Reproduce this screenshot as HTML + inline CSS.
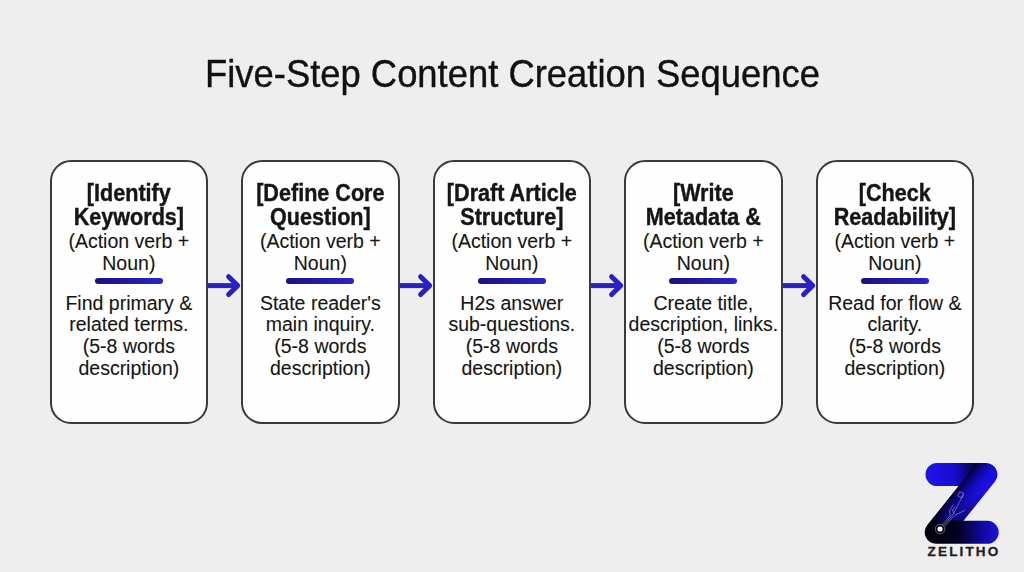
<!DOCTYPE html>
<html><head><meta charset="utf-8"><style>
html,body{margin:0;padding:0}
body{width:1024px;height:572px;background:#eeeeee;position:relative;overflow:hidden;font-family:"Liberation Sans",sans-serif;color:#151515}
.title{position:absolute;left:0;width:1025px;text-align:center;white-space:nowrap;color:#111;-webkit-text-stroke:0.35px #111}
.box{position:absolute;box-sizing:border-box;border:2px solid #3a3a3a;border-radius:21px;background:#fefefe}
.t{position:absolute;width:200px;text-align:center;white-space:nowrap}
.bar{position:absolute;width:68px;height:6px;border-radius:3px;background:linear-gradient(90deg,#171180,#2a24cc)}
.arr{position:absolute;overflow:visible}
.logo{position:absolute;left:900px;top:450px}
.zel{position:absolute;left:927.6px;top:544px;line-height:16px;font-size:13.5px;font-weight:700;letter-spacing:2.15px;color:#1e1e1e;-webkit-text-stroke:0.3px #1e1e1e;white-space:nowrap}
</style></head><body>
<div class="title" style="top:53.35px;line-height:43.68px;font-size:36.4px;transform:scaleY(1.065);transform-origin:50% 34.45px">Five-Step Content Creation Sequence</div>
<div class="box" style="left:49.60px;top:159.60px;width:158.5px;height:264px"></div>
<div class="t" style="top:180.76px;left:28.85px;font-size:21.6px;line-height:25.92px;font-weight:700;-webkit-text-stroke:0.4px #1a1a1a;transform:scaleY(1.09);transform-origin:50% 20.44px">[Identify</div>
<div class="t" style="top:205.36px;left:28.85px;font-size:21.6px;line-height:25.92px;font-weight:700;-webkit-text-stroke:0.4px #1a1a1a;transform:scaleY(1.09);transform-origin:50% 20.44px">Keywords]</div>
<div class="t" style="top:230.34px;left:28.85px;font-size:19.5px;line-height:23.40px;font-weight:400;-webkit-text-stroke:0.1px #1a1a1a;transform:scaleY(1.0);transform-origin:50% 18.46px">(Action verb +</div>
<div class="t" style="top:251.54px;left:28.85px;font-size:19.5px;line-height:23.40px;font-weight:400;-webkit-text-stroke:0.1px #1a1a1a;transform:scaleY(1.0);transform-origin:50% 18.46px">Noun)</div>
<div class="bar" style="left:94.85px;top:278px"></div>
<div class="t" style="top:291.64px;left:28.85px;font-size:19.5px;line-height:23.40px;font-weight:400;-webkit-text-stroke:0.1px #1a1a1a;transform:scaleY(1.0);transform-origin:50% 18.46px">Find primary &</div>
<div class="t" style="top:313.24px;left:28.85px;font-size:19.5px;line-height:23.40px;font-weight:400;-webkit-text-stroke:0.1px #1a1a1a;transform:scaleY(1.0);transform-origin:50% 18.46px">related terms.</div>
<div class="t" style="top:335.04px;left:28.85px;font-size:19.5px;line-height:23.40px;font-weight:400;-webkit-text-stroke:0.1px #1a1a1a;transform:scaleY(1.0);transform-origin:50% 18.46px">(5-8 words</div>
<div class="t" style="top:356.64px;left:28.85px;font-size:19.5px;line-height:23.40px;font-weight:400;-webkit-text-stroke:0.1px #1a1a1a;transform:scaleY(1.0);transform-origin:50% 18.46px">description)</div>
<svg class="arr" style="left:208.10px;top:270px" width="40" height="32" viewBox="0 0 40 32"><path d="M0 15.6 H29" stroke="#2822c4" stroke-width="5" fill="none"/><path d="M20.6 6.7 L29.7 15.6 L20.6 24.5" stroke="#2822c4" stroke-width="5" fill="none" stroke-linecap="round" stroke-linejoin="round"/></svg>
<div class="box" style="left:241.10px;top:159.60px;width:158.5px;height:264px"></div>
<div class="t" style="top:180.76px;left:220.35px;font-size:21.6px;line-height:25.92px;font-weight:700;-webkit-text-stroke:0.4px #1a1a1a;transform:scaleY(1.09);transform-origin:50% 20.44px">[Define Core</div>
<div class="t" style="top:205.36px;left:220.35px;font-size:21.6px;line-height:25.92px;font-weight:700;-webkit-text-stroke:0.4px #1a1a1a;transform:scaleY(1.09);transform-origin:50% 20.44px">Question]</div>
<div class="t" style="top:230.34px;left:220.35px;font-size:19.5px;line-height:23.40px;font-weight:400;-webkit-text-stroke:0.1px #1a1a1a;transform:scaleY(1.0);transform-origin:50% 18.46px">(Action verb +</div>
<div class="t" style="top:251.54px;left:220.35px;font-size:19.5px;line-height:23.40px;font-weight:400;-webkit-text-stroke:0.1px #1a1a1a;transform:scaleY(1.0);transform-origin:50% 18.46px">Noun)</div>
<div class="bar" style="left:286.35px;top:278px"></div>
<div class="t" style="top:291.64px;left:220.35px;font-size:19.5px;line-height:23.40px;font-weight:400;-webkit-text-stroke:0.1px #1a1a1a;transform:scaleY(1.0);transform-origin:50% 18.46px">State reader's</div>
<div class="t" style="top:313.24px;left:220.35px;font-size:19.5px;line-height:23.40px;font-weight:400;-webkit-text-stroke:0.1px #1a1a1a;transform:scaleY(1.0);transform-origin:50% 18.46px">main inquiry.</div>
<div class="t" style="top:335.04px;left:220.35px;font-size:19.5px;line-height:23.40px;font-weight:400;-webkit-text-stroke:0.1px #1a1a1a;transform:scaleY(1.0);transform-origin:50% 18.46px">(5-8 words</div>
<div class="t" style="top:356.64px;left:220.35px;font-size:19.5px;line-height:23.40px;font-weight:400;-webkit-text-stroke:0.1px #1a1a1a;transform:scaleY(1.0);transform-origin:50% 18.46px">description)</div>
<svg class="arr" style="left:399.60px;top:270px" width="40" height="32" viewBox="0 0 40 32"><path d="M0 15.6 H29" stroke="#2822c4" stroke-width="5" fill="none"/><path d="M20.6 6.7 L29.7 15.6 L20.6 24.5" stroke="#2822c4" stroke-width="5" fill="none" stroke-linecap="round" stroke-linejoin="round"/></svg>
<div class="box" style="left:432.60px;top:159.60px;width:158.5px;height:264px"></div>
<div class="t" style="top:180.76px;left:411.85px;font-size:21.6px;line-height:25.92px;font-weight:700;-webkit-text-stroke:0.4px #1a1a1a;transform:scaleY(1.09);transform-origin:50% 20.44px">[Draft Article</div>
<div class="t" style="top:205.36px;left:411.85px;font-size:21.6px;line-height:25.92px;font-weight:700;-webkit-text-stroke:0.4px #1a1a1a;transform:scaleY(1.09);transform-origin:50% 20.44px">Structure]</div>
<div class="t" style="top:230.34px;left:411.85px;font-size:19.5px;line-height:23.40px;font-weight:400;-webkit-text-stroke:0.1px #1a1a1a;transform:scaleY(1.0);transform-origin:50% 18.46px">(Action verb +</div>
<div class="t" style="top:251.54px;left:411.85px;font-size:19.5px;line-height:23.40px;font-weight:400;-webkit-text-stroke:0.1px #1a1a1a;transform:scaleY(1.0);transform-origin:50% 18.46px">Noun)</div>
<div class="bar" style="left:477.85px;top:278px"></div>
<div class="t" style="top:291.64px;left:411.85px;font-size:19.5px;line-height:23.40px;font-weight:400;-webkit-text-stroke:0.1px #1a1a1a;transform:scaleY(1.0);transform-origin:50% 18.46px">H2s answer</div>
<div class="t" style="top:313.24px;left:411.85px;font-size:19.5px;line-height:23.40px;font-weight:400;-webkit-text-stroke:0.1px #1a1a1a;transform:scaleY(1.0);transform-origin:50% 18.46px">sub-questions.</div>
<div class="t" style="top:335.04px;left:411.85px;font-size:19.5px;line-height:23.40px;font-weight:400;-webkit-text-stroke:0.1px #1a1a1a;transform:scaleY(1.0);transform-origin:50% 18.46px">(5-8 words</div>
<div class="t" style="top:356.64px;left:411.85px;font-size:19.5px;line-height:23.40px;font-weight:400;-webkit-text-stroke:0.1px #1a1a1a;transform:scaleY(1.0);transform-origin:50% 18.46px">description)</div>
<svg class="arr" style="left:591.10px;top:270px" width="40" height="32" viewBox="0 0 40 32"><path d="M0 15.6 H29" stroke="#2822c4" stroke-width="5" fill="none"/><path d="M20.6 6.7 L29.7 15.6 L20.6 24.5" stroke="#2822c4" stroke-width="5" fill="none" stroke-linecap="round" stroke-linejoin="round"/></svg>
<div class="box" style="left:624.10px;top:159.60px;width:158.5px;height:264px"></div>
<div class="t" style="top:180.76px;left:603.35px;font-size:21.6px;line-height:25.92px;font-weight:700;-webkit-text-stroke:0.4px #1a1a1a;transform:scaleY(1.09);transform-origin:50% 20.44px">[Write</div>
<div class="t" style="top:205.36px;left:603.35px;font-size:21.6px;line-height:25.92px;font-weight:700;-webkit-text-stroke:0.4px #1a1a1a;transform:scaleY(1.09);transform-origin:50% 20.44px">Metadata &amp;</div>
<div class="t" style="top:230.34px;left:603.35px;font-size:19.5px;line-height:23.40px;font-weight:400;-webkit-text-stroke:0.1px #1a1a1a;transform:scaleY(1.0);transform-origin:50% 18.46px">(Action verb +</div>
<div class="t" style="top:251.54px;left:603.35px;font-size:19.5px;line-height:23.40px;font-weight:400;-webkit-text-stroke:0.1px #1a1a1a;transform:scaleY(1.0);transform-origin:50% 18.46px">Noun)</div>
<div class="bar" style="left:669.35px;top:278px"></div>
<div class="t" style="top:291.64px;left:603.35px;font-size:19.5px;line-height:23.40px;font-weight:400;-webkit-text-stroke:0.1px #1a1a1a;transform:scaleY(1.0);transform-origin:50% 18.46px">Create title,</div>
<div class="t" style="top:313.24px;left:603.35px;font-size:19.5px;line-height:23.40px;font-weight:400;-webkit-text-stroke:0.1px #1a1a1a;transform:scaleY(1.0);transform-origin:50% 18.46px">description, links.</div>
<div class="t" style="top:335.04px;left:603.35px;font-size:19.5px;line-height:23.40px;font-weight:400;-webkit-text-stroke:0.1px #1a1a1a;transform:scaleY(1.0);transform-origin:50% 18.46px">(5-8 words</div>
<div class="t" style="top:356.64px;left:603.35px;font-size:19.5px;line-height:23.40px;font-weight:400;-webkit-text-stroke:0.1px #1a1a1a;transform:scaleY(1.0);transform-origin:50% 18.46px">description)</div>
<svg class="arr" style="left:782.60px;top:270px" width="40" height="32" viewBox="0 0 40 32"><path d="M0 15.6 H29" stroke="#2822c4" stroke-width="5" fill="none"/><path d="M20.6 6.7 L29.7 15.6 L20.6 24.5" stroke="#2822c4" stroke-width="5" fill="none" stroke-linecap="round" stroke-linejoin="round"/></svg>
<div class="box" style="left:815.60px;top:159.60px;width:158.5px;height:264px"></div>
<div class="t" style="top:180.76px;left:794.85px;font-size:21.6px;line-height:25.92px;font-weight:700;-webkit-text-stroke:0.4px #1a1a1a;transform:scaleY(1.09);transform-origin:50% 20.44px">[Check</div>
<div class="t" style="top:205.36px;left:794.85px;font-size:21.6px;line-height:25.92px;font-weight:700;-webkit-text-stroke:0.4px #1a1a1a;transform:scaleY(1.09);transform-origin:50% 20.44px">Readability]</div>
<div class="t" style="top:230.34px;left:794.85px;font-size:19.5px;line-height:23.40px;font-weight:400;-webkit-text-stroke:0.1px #1a1a1a;transform:scaleY(1.0);transform-origin:50% 18.46px">(Action verb +</div>
<div class="t" style="top:251.54px;left:794.85px;font-size:19.5px;line-height:23.40px;font-weight:400;-webkit-text-stroke:0.1px #1a1a1a;transform:scaleY(1.0);transform-origin:50% 18.46px">Noun)</div>
<div class="bar" style="left:860.85px;top:278px"></div>
<div class="t" style="top:291.64px;left:794.85px;font-size:19.5px;line-height:23.40px;font-weight:400;-webkit-text-stroke:0.1px #1a1a1a;transform:scaleY(1.0);transform-origin:50% 18.46px">Read for flow &amp;</div>
<div class="t" style="top:313.24px;left:794.85px;font-size:19.5px;line-height:23.40px;font-weight:400;-webkit-text-stroke:0.1px #1a1a1a;transform:scaleY(1.0);transform-origin:50% 18.46px">clarity.</div>
<div class="t" style="top:335.04px;left:794.85px;font-size:19.5px;line-height:23.40px;font-weight:400;-webkit-text-stroke:0.1px #1a1a1a;transform:scaleY(1.0);transform-origin:50% 18.46px">(5-8 words</div>
<div class="t" style="top:356.64px;left:794.85px;font-size:19.5px;line-height:23.40px;font-weight:400;-webkit-text-stroke:0.1px #1a1a1a;transform:scaleY(1.0);transform-origin:50% 18.46px">description)</div>
<svg class="logo" width="124" height="122" viewBox="900 450 124 122">
<defs>
<mask id="zm" maskUnits="userSpaceOnUse" x="900" y="450" width="124" height="122"><path d="M937 463 L985.8 463 A11.5 11.5 0 0 1 994.8 481.7 L963.5 520.8 L987.2 520.8 A11.5 11.5 0 0 1 987.2 543.8 L936.25 543.8 A11.5 11.5 0 0 1 927.3 525.1 L958.5 486 L937 486 A11.5 11.5 0 0 1 937 463 Z" fill="#fff"/></mask>
<linearGradient id="gt" x1="926" y1="0" x2="977" y2="0" gradientUnits="userSpaceOnUse"><stop offset="0" stop-color="#2012ec"/><stop offset="0.55" stop-color="#1a0dd0"/><stop offset="1" stop-color="#04022e"/></linearGradient>
<linearGradient id="gd" x1="958.5" y1="486" x2="978.5" y2="502" gradientUnits="userSpaceOnUse"><stop offset="0" stop-color="#040238"/><stop offset="0.3" stop-color="#0e06a0"/><stop offset="0.65" stop-color="#1a0ed8"/><stop offset="1" stop-color="#1d10e4"/></linearGradient>
<linearGradient id="gdv" x1="0" y1="492" x2="0" y2="530" gradientUnits="userSpaceOnUse"><stop offset="0" stop-color="#000" stop-opacity="0"/><stop offset="1" stop-color="#000" stop-opacity="0.6"/></linearGradient>
<linearGradient id="gb" x1="935" y1="0" x2="999" y2="0" gradientUnits="userSpaceOnUse"><stop offset="0" stop-color="#020112"/><stop offset="0.35" stop-color="#03021e"/><stop offset="0.72" stop-color="#10089c"/><stop offset="1" stop-color="#1d10e6"/></linearGradient>
</defs>
<g mask="url(#zm)">
<rect x="900" y="450" width="124" height="122" fill="url(#gd)"/>
<rect x="900" y="450" width="124" height="122" fill="url(#gdv)"/>
<polygon points="900,450 987.3,450 957.7,487 900,487" fill="url(#gt)"/>
<polygon points="900,572 1024,572 1024,520.6 930,520.6 900,560" fill="url(#gb)"/>
</g>
<g stroke="#d0ccff" stroke-width="0.55" fill="none" opacity="0.85">
<circle cx="940" cy="529.1" r="4.7"/>
<path d="M941.9 524.8 L950.2 515.6"/>
<path d="M943.1 525.7 L951.4 516.5"/>
<path d="M944.2 526.7 L952.5 517.5"/>
<path d="M950.2 515.6 L949.4 511 L951.5 507.5 L953.5 504.5"/>
<path d="M951.4 516.5 L955.2 510.6 L957.3 506.2 L960.5 500 L963.4 494.2"/>
<path d="M952.5 517.5 L956 514.6 L964.9 510.3"/>
<path d="M953.8 513.6 L952.3 509.8 L955.3 506.5"/>
<path d="M959.6 491.6 L963.7 493.4 L961.9 497.8 L957.9 496.1 Z"/>
</g>
<circle cx="940" cy="529" r="2.6" fill="#fff"/>
</svg>
<div class="zel">ZELITHO</div>
</body></html>
